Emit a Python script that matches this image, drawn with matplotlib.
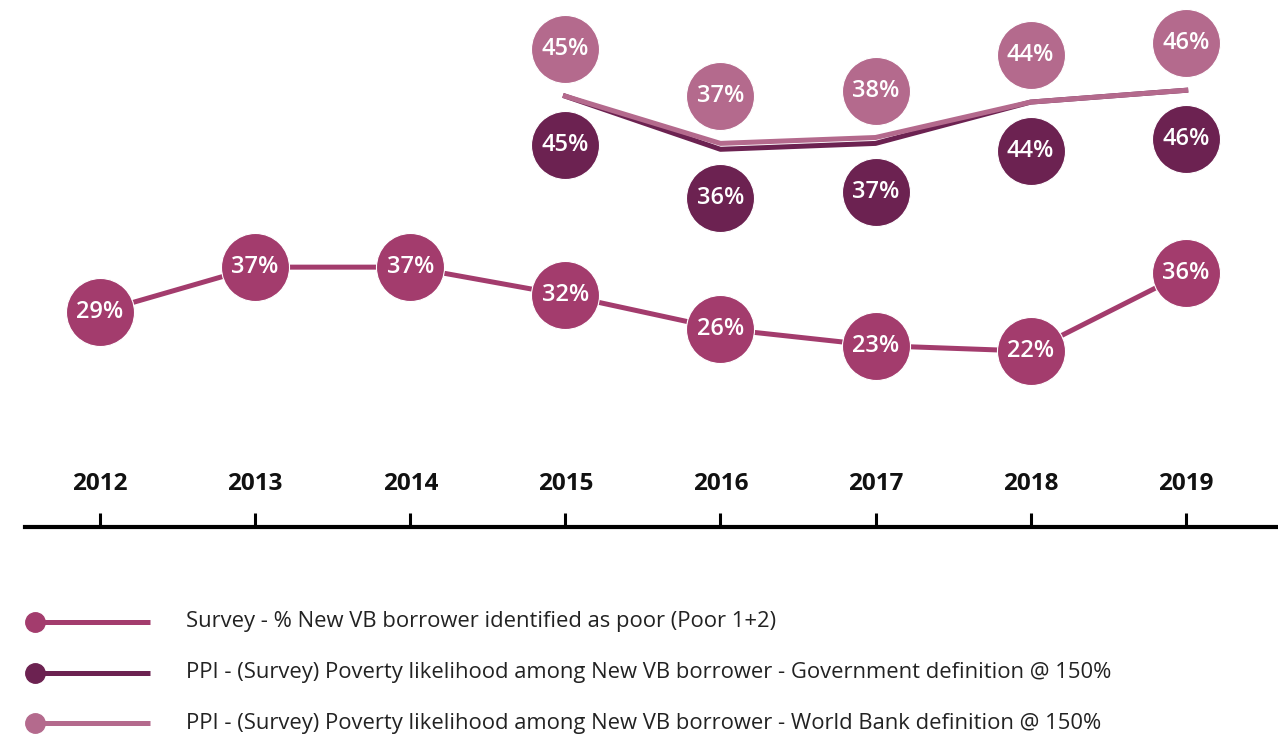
import matplotlib
matplotlib.use("Agg")
import matplotlib.pyplot as plt
import matplotlib.transforms as mtransforms

# ---- data ----
years = [2012, 2013, 2014, 2015, 2016, 2017, 2018, 2019]
survey = [29, 37, 37, 32, 26, 23, 22, 36]

ppi_years = [2015, 2016, 2017, 2018, 2019]
ppi_gov = [45, 36, 37, 44, 46]
ppi_wb = [45, 37, 38, 44, 46]

legend_labels = [
    "Survey - % New VB borrower identified as poor (Poor 1+2)",
    "PPI - (Survey) Poverty likelihood among New VB borrower - Government definition @ 150%",
    "PPI - (Survey) Poverty likelihood among New VB borrower - World Bank definition @ 150%",
]

C_SURVEY = "#a33c6d"
C_GOV = "#6c2251"
C_WB = "#b46a8d"

FONT = "Open Sans"

W, H = 1278, 737
fig = plt.figure(figsize=(W / 100, H / 100), dpi=100)

# main axes: bottom spine is the timeline
ax = fig.add_axes([25 / W, 210 / H, 1253 / W, 527 / H])
ax.set_xlim(2011.516, 2019.595)
ax.set_ylim(-9.4, 84.7)

# second y scale for the PPI series (they sit higher on the page)
ax2 = ax.twinx()
ax2.set_ylim(-28.0, 61.3)

for a in (ax, ax2):
    for s in ("left", "right", "top"):
        a.spines[s].set_visible(False)
    a.set_yticks([])
ax2.spines["bottom"].set_visible(False)

ax.spines["bottom"].set_linewidth(3)
ax.spines["bottom"].set_color("black")
ax.set_xticks(years)
ax.tick_params(axis="x", direction="in", length=10, width=2.2,
               color="black", labelbottom=False)

blend = mtransforms.blended_transform_factory(ax.transData, ax.transAxes)
for yr in years:
    ax.text(yr, 0.07, str(yr), transform=blend, ha="center", va="baseline",
            fontsize=17.5, fontweight="bold", family=FONT, color="#111111")

S = 2400  # circle marker size
txt_kw = dict(ha="center", va="center", color="white", fontsize=17,
              fontweight="semibold", family=FONT, zorder=5)

# survey line with circles on the points
ax.plot(years, survey, color=C_SURVEY, lw=3.6, zorder=2)
ax.scatter(years, survey, s=S, color=C_SURVEY, edgecolors="white",
           linewidths=0.8, zorder=3)
for x, v in zip(years, survey):
    ax.text(x, v, f"{v}%", **txt_kw)

# PPI lines, circles offset above (World Bank) and below (Government)
ax2.plot(ppi_years, ppi_gov, color=C_GOV, lw=3.6, zorder=2)
ax2.plot(ppi_years, ppi_wb, color=C_WB, lw=3.6, zorder=2)

up = ax2.transData + mtransforms.ScaledTranslation(0, 0.47, fig.dpi_scale_trans)
down = ax2.transData + mtransforms.ScaledTranslation(0, -0.49, fig.dpi_scale_trans)

ax2.scatter(ppi_years, ppi_wb, s=S, color=C_WB, edgecolors="white",
            linewidths=0.8, transform=up, zorder=3)
ax2.scatter(ppi_years, ppi_gov, s=S, color=C_GOV, edgecolors="white",
            linewidths=0.8, transform=down, zorder=3)
for x, v in zip(ppi_years, ppi_wb):
    ax2.text(x, v, f"{v}%", transform=up, **txt_kw)
for x, v in zip(ppi_years, ppi_gov):
    ax2.text(x, v, f"{v}%", transform=down, **txt_kw)

# legend drawn by hand (marker at the left end of the line)
lax = fig.add_axes([0, 0, 1, 0.2])
lax.set_xlim(0, W)
lax.set_ylim(0, 0.2 * H)
lax.axis("off")
for i, (lab, col) in enumerate(zip(legend_labels, [C_SURVEY, C_GOV, C_WB])):
    y = 115 - 50.5 * i
    lax.plot([35, 150], [y, y], color=col, lw=3.6, solid_capstyle="butt")
    lax.plot([35], [y], marker="o", ms=14, color=col, mec=col)
    lax.text(186, y, lab, ha="left", va="center", fontsize=15.8,
             family=FONT, color="#222222")

fig.savefig("out.png", dpi=100)
